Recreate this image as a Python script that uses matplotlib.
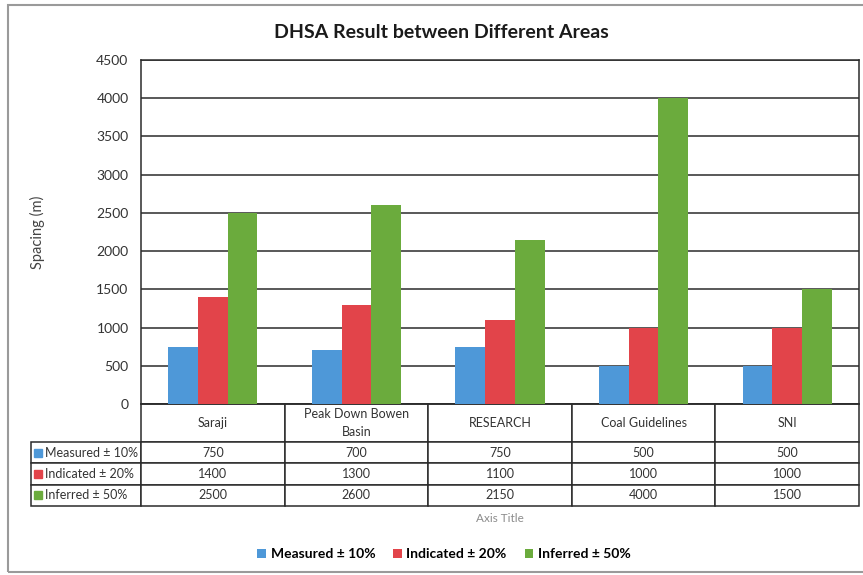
import matplotlib
matplotlib.use('Agg')
import matplotlib.pyplot as plt
from matplotlib.patches import Patch, Rectangle
import numpy as np

plt.rcParams['font.family'] = ['Lato', 'DejaVu Sans']

# data
areas = ['Saraji', 'Peak Down Bowen\nBasin', 'RESEARCH', 'Coal Guidelines', 'SNI']
series = ['Measured ± 10%', 'Indicated ± 20%', 'Inferred ± 50%']
measured = [750, 700, 750, 500, 500]
indicated = [1400, 1300, 1100, 1000, 1000]
inferred = [2500, 2600, 2150, 4000, 1500]
colors = ['#4E98D8', '#E2444A', '#6BAB3D']

W, H = 863, 575
fig = plt.figure(figsize=(W / 100, H / 100), dpi=100)
fig.patch.set_facecolor('white')

# outer chart frame
fig.add_artist(Rectangle((8 / W, 3 / H), 1.0, 1 - 8 / H, transform=fig.transFigure,
                         facecolor='none', edgecolor='#9a9a9a', lw=1.5))

ax_l, ax_r, ax_t, ax_b = 141, 859, 60, 404
ax = fig.add_axes([ax_l / W, 1 - ax_b / H, (ax_r - ax_l) / W, (ax_b - ax_t) / H])

x = np.arange(len(areas))
bw = 0.207
for k, vals in enumerate([measured, indicated, inferred]):
    ax.bar(x + (k - 1) * bw, vals, bw, color=colors[k], zorder=3, label=series[k])

ax.set_xlim(-0.5, len(areas) - 0.5)
ax.set_ylim(0, 4500)
ax.set_yticks(np.arange(0, 4501, 500))
ax.set_xticks([])
ax.grid(axis='y', color='#2b2b2b', lw=1.1, zorder=1)
for s in ax.spines.values():
    s.set_color('#2b2b2b')
    s.set_linewidth(1.1)
ax.tick_params(axis='y', length=0, pad=9, labelsize=10, labelcolor='#333333')
ax.set_ylabel('Spacing (m)', fontsize=10.5, color='#444444')
ax.yaxis.set_label_coords((45 - ax_l) / (ax_r - ax_l), 0.5)

# data table under the plot
axh = ax_b - ax_t
head_h, row_h = 38, 21.3
tbl_h = head_h + 3 * row_h
lab_w = (ax_l - 31) / (ax_r - ax_l)
cell_text = [[str(v) for v in vals] for vals in [measured, indicated, inferred]]
tbl = ax.table(cellText=cell_text, rowLabels=series, colLabels=areas,
               cellLoc='center', rowLoc='left',
               bbox=[0, -tbl_h / axh, 1, tbl_h / axh])
if -1 in tbl._autoColumns:
    tbl._autoColumns.remove(-1)
tbl.auto_set_font_size(False)
tbl.set_fontsize(9)
for (r, c), cell in tbl.get_celld().items():
    cell.set_edgecolor('#2b2b2b')
    cell.set_linewidth(1.1)
    cell.get_text().set_color('#333333')
    cell.get_text().set_linespacing(1.6)
    cell.set_height(head_h / axh if r == 0 else row_h / axh)
    if c == -1:
        cell.PAD = 0.125
        cell.set_width(lab_w)
    else:
        cell.set_width(1.0 / len(areas))

# coloured keys in row labels
for k in range(3):
    yc = -(head_h + (k + 0.5) * row_h) / axh
    ax.plot([(38 - ax_l) / (ax_r - ax_l)], [yc], marker='s', ms=6, color=colors[k],
            transform=ax.transAxes, clip_on=False, zorder=5)

fig.text(500 / W, 1 - 518 / H, 'Axis Title', ha='center', va='center',
         fontsize=8.5, color='#8c8c8c')

fig.text(441 / W, 1 - 32 / H, 'DHSA Result between Different Areas', ha='center',
         va='center', fontsize=14, fontweight='bold', color='#1a1a1a')

handles = [Patch(facecolor=c, label=s) for c, s in zip(colors, series)]
fig.legend(handles=handles, loc='center', bbox_to_anchor=(444 / W, 1 - 554 / H),
           ncol=3, frameon=False, handlelength=0.6, handleheight=0.6,
           handletextpad=0.35, columnspacing=1.3,
           prop={'weight': 'bold', 'size': 10})

fig.savefig('out.png', dpi=100, facecolor='white')
